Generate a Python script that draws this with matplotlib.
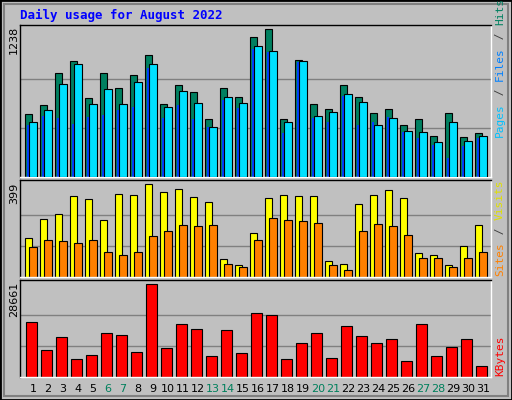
import matplotlib
matplotlib.use("Agg")
import matplotlib.pyplot as plt
import numpy as np
from matplotlib.patches import Rectangle

days = list(range(1, 32))
weekend = [6, 7, 13, 14, 20, 21, 27, 28]
hits = [525,600,869,969,659,869,743,852,1020,608,768,709,483,743,668,1171,1238,489,984,614,573,774,668,534,573,439,489,346,534,338,372]
files = [458,559,777,944,608,734,608,800,944,583,717,623,422,668,623,1101,1059,464,975,514,548,698,631,439,497,388,380,296,458,304,346]
pages = [433,514,497,447,506,523,564,589,916,497,606,489,422,645,578,1076,1051,372,966,497,464,679,433,458,506,380,330,271,162,263,330]
visits = [165,247,269,347,334,243,355,351,399,364,377,342,321,74,48,186,341,351,347,347,65,52,312,351,373,341,100,95,48,130,221]
sites = [126,160,152,143,156,108,95,108,173,195,221,217,221,56,39,156,251,243,239,230,48,30,195,226,217,178,82,82,39,78,108]
kbytes = [17050,8260,12340,5440,6690,13600,12970,7640,28661,8890,16420,14850,6380,14640,7320,19870,19250,5440,10670,13600,5750,15690,12550,10670,11920,4810,16420,6380,9210,11920,3560]

W, H = 512, 400
fig = plt.figure(figsize=(W/100, H/100), dpi=100)
fig.patch.set_facecolor('#c0c0c0')
fig.patches.append(Rectangle((0, 0), 1, 1, transform=fig.transFigure, fill=False, edgecolor='black', lw=2))
fig.patches.append(Rectangle((4/W, 4/H), 1-8/W, 1-8/H, transform=fig.transFigure, fill=False, edgecolor='#808080', lw=1.5))

def ax_px(x0, y0, x1, y1):
    a = fig.add_axes([x0/W, 1-y1/H, (x1-x0)/W, (y1-y0)/H])
    a.set_facecolor('#c0c0c0')
    for s in a.spines.values():
        s.set_color('black'); s.set_linewidth(1)
    a.spines['bottom'].set_color('white'); a.spines['right'].set_color('white')
    a.set_xticks([]); a.set_yticks([])
    a.set_xlim(0.1667, 0.1667 + 471/15)
    return a

x = np.array(days, dtype=float)
ek = dict(edgecolor='black', linewidth=0.8, align='edge')

a1 = ax_px(20, 24.5, 491, 177)
a1.set_ylim(0, 1278)
for g in (825, 413):
    a1.axhline(g, color='#808080', lw=1, zorder=0)
a1.bar(x-0.5, hits, 0.49, color='#008060', **ek)
a1.bar(x-0.5+0.29, files, 0.49, color='#00e0ff', **ek, zorder=3)
a1.bar(x-0.5+0.11, pages, 0.18, color='#0040ff', linewidth=0, align='edge', zorder=2)

a2 = ax_px(20, 180.3, 491, 276.5)
a2.set_ylim(0, 416)
for g in (266, 133):
    a2.axhline(g, color='#808080', lw=1, zorder=0)
a2.bar(x-0.5, visits, 0.49, color='#ffff00', **ek)
a2.bar(x-0.5+0.29, sites, 0.49, color='#ff8000', **ek)

a3 = ax_px(20, 280.3, 491, 377)
a3.set_ylim(0, 29950)
for g in (28661*2/3, 28661/3):
    a3.axhline(g, color='#808080', lw=1, zorder=0)
a3.bar(x-0.5+0.07, kbytes, 0.71, color='#ff0000', **ek)

for d in days:
    a3.text(d+0.03, -0.07, str(d), transform=a3.get_xaxis_transform(), ha='center', va='top',
            fontsize=8, color='#00805c' if d in weekend else 'black', family='DejaVu Sans')

fig.text(20/W, 1-15/H, 'Daily usage for August 2022', color='#0000ff', fontsize=9,
         fontweight='bold', family='DejaVu Sans Mono', va='center', ha='left')

def ylab(ypx, s):
    fig.text(14/W, 1-ypx/H, s, rotation=90, ha='center', va='top', fontsize=8, family='DejaVu Sans')
ylab(26, str(max(hits)))
ylab(183, str(max(visits)))
ylab(282, str(max(kbytes)))

renderer = fig.canvas.get_renderer()
def rlab(ybot, parts):
    y = ybot
    for s, c in parts:
        t = fig.text(500/W, 1-y/H, s, rotation=90, ha='center', va='bottom', fontsize=8,
                     family='DejaVu Sans Mono', color=c)
        ext = t.get_window_extent(renderer)
        y -= ext.height + 1
rlab(137, [('Pages', '#00c0ff'), (' / ', '#404040'), ('Files', '#0080ff'), (' / ', '#404040'), ('Hits', '#008060')])
rlab(276, [('Sites', '#ff8000'), (' / ', '#404040'), ('Visits', '#e0e000')])
rlab(376, [('KBytes', '#ff0000')])

fig.savefig('out.png', dpi=100, facecolor=fig.get_facecolor())
